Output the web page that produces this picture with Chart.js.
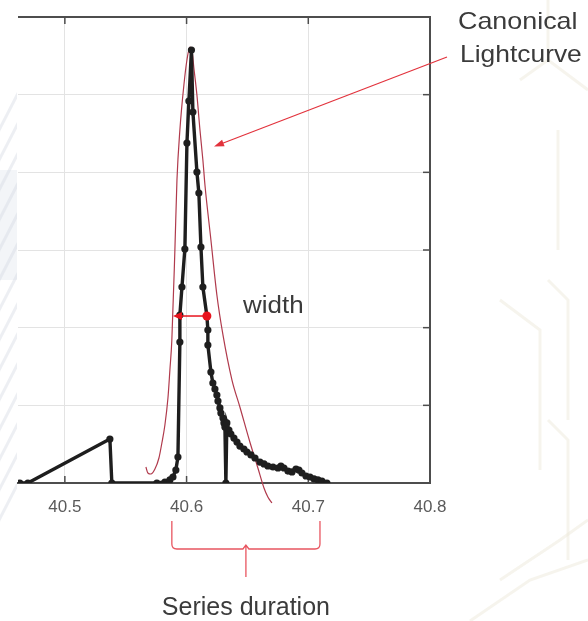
<!DOCTYPE html>
<html>
<head>
<meta charset="utf-8">
<script src="https://cdn.jsdelivr.net/npm/chart.js@4.4.1/dist/chart.umd.min.js"></script>
<style>
  html, body { margin: 0; padding: 0; background: #ffffff; }
  #wrap { width: 588px; height: 621px; position: relative; }
</style>
</head>
<body>
<div id="wrap"><canvas id="c" width="588" height="621"></canvas></div>
<script>
// Observed series (time, flux)
const timeObserved = [
  40.4630, 40.4696, 40.5370, 40.5386, 40.5756, 40.5822, 40.5863, 40.5888, 40.5912, 40.5929,
  40.5945, 40.5945, 40.5962, 40.5986, 40.6003, 40.6019, 40.6040, 40.6052, 40.6085, 40.6101,
  40.6118, 40.6134, 40.6167, 40.6175, 40.6175, 40.6200, 40.6216, 40.6233, 40.6249, 40.6258,
  40.6274, 40.6282, 40.6299, 40.6307, 40.6315, 40.6323, 40.6331, 40.6348, 40.6364, 40.6389,
  40.6414, 40.6438, 40.6471, 40.6496, 40.6529, 40.6562, 40.6603, 40.6636, 40.6668, 40.6710,
  40.6751, 40.6775, 40.6800, 40.6833, 40.6866, 40.6899, 40.6923, 40.6948, 40.6981, 40.7014,
  40.7047, 40.7079, 40.7112, 40.7153
];
const fluxObserved = [
  0.000, 0.000, 0.566, 0.000, 0.000, 0.013, 0.039, 0.077, 0.167, 0.335,
  1.815, 2.163, 2.523, 3.013, 4.378, 4.918, 5.575, 4.777, 4.004, 3.734,
  3.038, 2.523, 2.150, 1.970, 1.777, 1.429, 1.287, 1.210, 1.133, 1.056,
  0.966, 0.901, 0.837, 0.773, 0.721, 0.000, 0.773, 0.682, 0.631, 0.579,
  0.528, 0.476, 0.438, 0.399, 0.361, 0.322, 0.270, 0.245, 0.219, 0.206,
  0.193, 0.219, 0.193, 0.154, 0.142, 0.180, 0.167, 0.129, 0.090, 0.077,
  0.052, 0.039, 0.026, 0.000
];

// Canonical lightcurve template
const timeCanonical = [
  40.5666, 40.5682, 40.5707, 40.5740, 40.5773, 40.5797, 40.5822, 40.5847, 40.5863, 40.5879,
  40.5904, 40.5921, 40.5945, 40.5978, 40.6003, 40.6027, 40.6044, 40.6060, 40.6085, 40.6110,
  40.6134, 40.6151, 40.6200, 40.6249, 40.6299, 40.6373, 40.6438, 40.6520, 40.6586, 40.6636,
  40.6668, 40.6701
];
const fluxCanonical = [
  0.206, 0.129, 0.116, 0.180, 0.322, 0.515, 0.747, 1.094, 1.455, 1.841,
  3.000, 3.901, 4.545, 5.124, 5.446, 5.613, 5.575, 5.343, 4.995, 4.545,
  4.159, 3.837, 3.129, 2.421, 1.906, 1.326, 0.979, 0.528, 0.193, -0.064,
  -0.180, -0.258
];

// Axis ticks
const xTickValues = [40.5, 40.6, 40.7, 40.8];
const yGridValues = [0, 1, 2, 3, 4, 5, 6];

// Annotated quantities
const widthLevel = 2.15;            // flux level at which the width is measured
const widthStart = 40.5888;
const widthEnd = 40.6167;
const durationStart = 40.5879;
const durationEnd = 40.7096;

const FONT = '"Liberation Sans", Arial, sans-serif';
const observedPoints = timeObserved.map((t, i) => ({ x: t, y: fluxObserved[i] }));
const canonicalPoints = timeCanonical.map((t, i) => ({ x: t, y: fluxCanonical[i] }));

function drawStretchedText(ctx, text, x, y, size, sx, align) {
  ctx.save();
  ctx.font = size + 'px ' + FONT;
  ctx.textBaseline = 'alphabetic';
  ctx.textAlign = align || 'left';
  ctx.translate(x, y);
  ctx.scale(sx, 1);
  ctx.fillText(text, 0, 0);
  ctx.restore();
}

function arrowHead(ctx, tipX, tipY, fromX, fromY, len, half) {
  const a = Math.atan2(tipY - fromY, tipX - fromX);
  ctx.beginPath();
  ctx.moveTo(tipX, tipY);
  ctx.lineTo(tipX - len * Math.cos(a) + half * Math.sin(a), tipY - len * Math.sin(a) - half * Math.cos(a));
  ctx.lineTo(tipX - len * Math.cos(a) - half * Math.sin(a), tipY - len * Math.sin(a) + half * Math.cos(a));
  ctx.closePath();
  ctx.fill();
}

// Page background with faint decorative pattern
const backdrop = {
  id: 'backdrop',
  beforeDraw(chart) {
    const ctx = chart.ctx;
    ctx.save();
    ctx.fillStyle = '#ffffff';
    ctx.fillRect(0, 0, chart.width, chart.height);

    ctx.save();
    ctx.beginPath();
    ctx.rect(0, 70, 17, 460);
    ctx.clip();
    ctx.fillStyle = 'rgba(238,241,245,0.7)';
    ctx.fillRect(0, 170, 17, 110);
    ctx.strokeStyle = 'rgba(210,216,226,0.4)';
    ctx.lineWidth = 3;
    for (let k = 0; k < 14; k++) {
      ctx.beginPath();
      ctx.moveTo(-6, 140 + k * 30);
      ctx.lineTo(30, 70 + k * 30);
      ctx.stroke();
    }
    ctx.restore();

    ctx.strokeStyle = 'rgba(236,230,214,0.45)';
    ctx.lineWidth = 3;
    const strokes = [
      [[548, 0], [548, 60], [588, 90]],
      [[548, 60], [520, 80]],
      [[558, 130], [558, 250]],
      [[548, 280], [568, 300], [568, 420]],
      [[500, 300], [540, 330], [540, 470]],
      [[548, 420], [568, 440], [568, 560]],
      [[500, 580], [560, 540], [588, 520]],
      [[470, 621], [530, 580], [588, 560]]
    ];
    strokes.forEach(s => {
      ctx.beginPath();
      ctx.moveTo(s[0][0], s[0][1]);
      for (let i = 1; i < s.length; i++) ctx.lineTo(s[i][0], s[i][1]);
      ctx.stroke();
    });
    ctx.restore();
  }
};

// Top/right frame lines and inward tick marks
const frame = {
  id: 'frame',
  beforeDatasetsDraw(chart) {
    const { ctx, chartArea: a, scales: { x, y } } = chart;
    ctx.save();
    ctx.strokeStyle = '#4d4d4d';
    ctx.lineWidth = 2;
    ctx.beginPath();
    ctx.moveTo(a.left, a.top);
    ctx.lineTo(a.right, a.top);
    ctx.lineTo(a.right, a.bottom);
    ctx.stroke();
    ctx.lineWidth = 1.5;
    xTickValues.slice(0, -1).forEach(v => {
      const px = x.getPixelForValue(v);
      ctx.beginPath();
      ctx.moveTo(px, a.top); ctx.lineTo(px, a.top + 7);
      ctx.moveTo(px, a.bottom); ctx.lineTo(px, a.bottom - 7);
      ctx.stroke();
    });
    yGridValues.slice(1, -1).forEach(v => {
      const py = y.getPixelForValue(v);
      ctx.beginPath();
      ctx.moveTo(a.right, py); ctx.lineTo(a.right - 7, py);
      ctx.stroke();
    });
    ctx.restore();
  }
};

// Labels, pointer, width marker and duration brace
const notes = {
  id: 'notes',
  afterDatasetsDraw(chart) {
    const { ctx, scales: { x, y } } = chart;
    ctx.save();

    // pointer to the canonical lightcurve
    ctx.strokeStyle = '#e2323c';
    ctx.fillStyle = '#e2323c';
    ctx.lineWidth = 1.2;
    ctx.beginPath();
    ctx.moveTo(447, 57);
    ctx.lineTo(222, 143.5);
    ctx.stroke();
    arrowHead(ctx, 214, 146.5, 447, 57, 10, 3.5);

    // width marker
    const wy = y.getPixelForValue(widthLevel);
    const wx1 = x.getPixelForValue(widthStart);
    const wx2 = x.getPixelForValue(widthEnd);
    ctx.strokeStyle = '#e8141e';
    ctx.fillStyle = '#e8141e';
    ctx.lineWidth = 1.5;
    ctx.beginPath();
    ctx.moveTo(wx1 + 4, wy);
    ctx.lineTo(wx2, wy);
    ctx.stroke();
    arrowHead(ctx, wx1, wy, wx2, wy, 9, 4);
    ctx.beginPath();
    ctx.arc(wx2, wy, 4.5, 0, Math.PI * 2);
    ctx.fill();

    // duration brace
    const bx1 = x.getPixelForValue(durationStart);
    const bx2 = x.getPixelForValue(durationEnd);
    const mid = (bx1 + bx2) / 2;
    const top = 521, bar = 549, stem = 577, r = 5;
    ctx.strokeStyle = '#e85560';
    ctx.lineWidth = 1.3;
    ctx.beginPath();
    ctx.moveTo(bx1, top);
    ctx.lineTo(bx1, bar - r);
    ctx.quadraticCurveTo(bx1, bar, bx1 + r, bar);
    ctx.lineTo(mid - 3, bar);
    ctx.lineTo(mid, bar - 4);
    ctx.lineTo(mid + 3, bar);
    ctx.lineTo(bx2 - r, bar);
    ctx.quadraticCurveTo(bx2, bar, bx2, bar - r);
    ctx.lineTo(bx2, top);
    ctx.moveTo(mid, bar - 4);
    ctx.lineTo(mid, stem);
    ctx.stroke();

    // text
    ctx.fillStyle = '#3b3b3b';
    drawStretchedText(ctx, 'Canonical', 458, 29, 24, 1.12, 'left');
    drawStretchedText(ctx, 'Lightcurve', 460, 62, 24, 1.1, 'left');
    drawStretchedText(ctx, 'width', 243, 313, 23, 1.13, 'left');
    drawStretchedText(ctx, 'Series duration', mid, 615, 25, 1.0, 'center');

    ctx.restore();
  }
};

new Chart(document.getElementById('c'), {
  type: 'line',
  data: {
    datasets: [
      {
        label: 'Observed',
        data: observedPoints,
        borderColor: '#1e1e1e',
        backgroundColor: '#1e1e1e',
        borderWidth: 3.4,
        pointRadius: 3.6,
        pointBorderWidth: 0,
        pointBackgroundColor: '#1e1e1e',
        tension: 0
      },
      {
        label: 'Canonical Lightcurve',
        data: canonicalPoints,
        borderColor: '#b03a4c',
        borderWidth: 1.2,
        pointRadius: 0,
        cubicInterpolationMode: 'monotone',
        clip: false
      }
    ]
  },
  options: {
    responsive: false,
    devicePixelRatio: 1,
    animation: false,
    parsing: true,
    layout: { padding: { left: 18, top: 17, right: 158, bottom: 98 } },
    plugins: { legend: { display: false }, tooltip: { enabled: false } },
    scales: {
      x: {
        type: 'linear',
        min: 40.4615,
        max: 40.8,
        afterBuildTicks: s => { s.ticks = xTickValues.map(v => ({ value: v })); },
        afterFit: s => { s.height = 40; },
        ticks: {
          autoSkip: false,
          maxRotation: 0,
          padding: 14,
          color: '#5a5a5a',
          font: { family: FONT, size: 17 },
          callback: v => Number(v).toFixed(1)
        },
        grid: { color: '#e3e3e3', lineWidth: 1, drawTicks: false },
        border: { display: true, color: '#4d4d4d', width: 2 }
      },
      y: {
        type: 'linear',
        min: 0,
        max: 6,
        afterBuildTicks: s => { s.ticks = yGridValues.map(v => ({ value: v })); },
        afterFit: s => { s.width = 0; },
        ticks: { display: false },
        grid: { color: '#e3e3e3', lineWidth: 1, drawTicks: false },
        border: { display: false }
      }
    }
  },
  plugins: [backdrop, frame, notes]
});
</script>
</body>
</html>
